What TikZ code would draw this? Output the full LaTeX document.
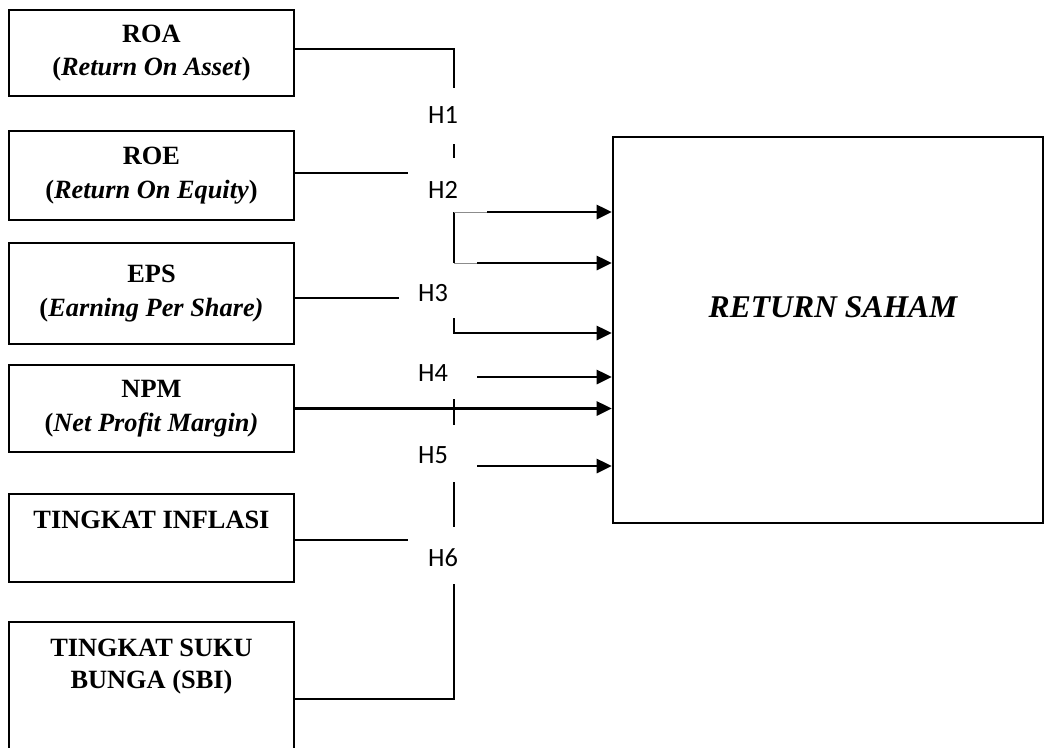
\documentclass[tikz,border=0pt]{standalone}
\usepackage{fontspec}
\setmainfont{Liberation Serif}
\newfontfamily\hypfont{Carlito}
\usetikzlibrary{positioning,arrows.meta}
\tikzset{
  kf box/.style={draw=black,line width=1.5pt,minimum width=5.7cm,inner sep=0pt,
    align=center,font=\bfseries\fontsize{15}{19}\selectfont},
  kf title/.style={inner sep=0pt,align=center,font=\bfseries\fontsize{15}{18}\selectfont},
  kf target/.style={draw=black,line width=1.5pt,minimum width=8.6cm,minimum height=7.72cm,inner sep=0pt},
  kf big/.style={font=\bfseries\itshape\fontsize{18}{20}\selectfont},
  kf hyp/.style={font=\hypfont\fontsize{15}{17}\selectfont,inner sep=1pt},
  kf link/.style={line width=1.5pt,black},
  kf thin/.style={line width=0.5pt,black!45},
  kf arrow/.style={kf link,-{Triangle[length=3mm,width=2.8mm]}}
}

\begin{document}
\begin{tikzpicture}[x=0.02cm,y=-0.02cm]
  \useasboundingbox (0,0) rectangle (1046,748);

  % Independent variables.
  \node[kf box,minimum height=1.72cm] (roa) at (151.5,53) {ROA\\(\textit{Return On Asset})};
  \node[kf box,minimum height=1.78cm] (roe) at (151.5,175.5) {ROE\\(\textit{Return On Equity})};
  \node[kf box,minimum height=2.02cm] (eps) at (151.5,293.5) {EPS\\(\textit{Earning Per Share)}};
  \node[kf box,minimum height=1.74cm] (npm) at (151.5,408.5) {NPM\\(\textit{Net Profit Margin)}};
  \node[kf box,minimum height=1.76cm] (infl) at (151.5,538) {};
  \node[kf title,below=3.6mm of infl.north] (infl-t) {TINGKAT INFLASI};
  \node[kf box,minimum height=3.08cm] (sbi) at (151.5,699) {};
  \node[kf title,below=3.6mm of sbi.north] (sbi-t) {TINGKAT SUKU\\BUNGA (SBI)};

  % Dependent variable.
  \node[kf target] (saham) at (828,330) {};
  \node[kf big] (saham-t) at (833,307) {RETURN SAHAM};

  % Hypotheses.
  \node[kf hyp] (h1) at (443,115) {H1};
  \node[kf hyp] (h2) at (443,190) {H2};
  \node[kf hyp] (h3) at (433,293) {H3};
  \node[kf hyp] (h4) at (433,373) {H4};
  \node[kf hyp] (h5) at (433,455) {H5};
  \node[kf hyp] (h6) at (443,558) {H6};

  \coordinate (j1) at (454,88);
  \coordinate (d1a) at (454,144);
  \coordinate (d1b) at (454,158);
  \coordinate (b2) at (454,212);
  \coordinate (b2b) at (454,263);
  \coordinate (a2) at (487,212);
  \coordinate (a2b) at (477,263);
  \coordinate (b3) at (454,318);
  \coordinate (a3) at (454,333);
  \coordinate (a4) at (477,377);
  \coordinate (t4a) at (454,399);
  \coordinate (t4b) at (454,425);
  \coordinate (a5) at (477,466);
  \coordinate (d5a) at (454,482);
  \coordinate (d5b) at (454,527);
  \coordinate (j6) at (454,584);

  % Connectors.
  \draw[kf link] ([yshift=0.08cm]roa.east) -| (j1);
  \draw[kf link] (d1a) -- (d1b);
  \draw[kf link] ([yshift=0.05cm]roe.east) -- ++(113,0);
  \draw[kf link] (b2) -- (b2b);
  \draw[kf thin] (b2) -- (a2);
  \draw[kf thin] (b2b) -- (a2b);
  \draw[kf arrow] (a2) -- (a2 -| saham.west);
  \draw[kf arrow] (a2b) -- (a2b -| saham.west);
  \draw[kf link] ([yshift=-0.09cm]eps.east) -- ++(104,0);
  \draw[kf arrow] (b3) |- (a3 -| saham.west);
  \draw[kf arrow] (a4) -- (a4 -| saham.west);
  \draw[kf arrow] (npm.east) -- (npm.east -| saham.west);
  \draw[kf link] (t4a) -- (t4b);
  \draw[kf arrow] (a5) -- (a5 -| saham.west);
  \draw[kf link] (d5a) -- (d5b);
  \draw[kf link] ([yshift=-0.04cm]infl.east) -- ++(113,0);
  \draw[kf link] (j6) |- (sbi.east);
\end{tikzpicture}
\end{document}
